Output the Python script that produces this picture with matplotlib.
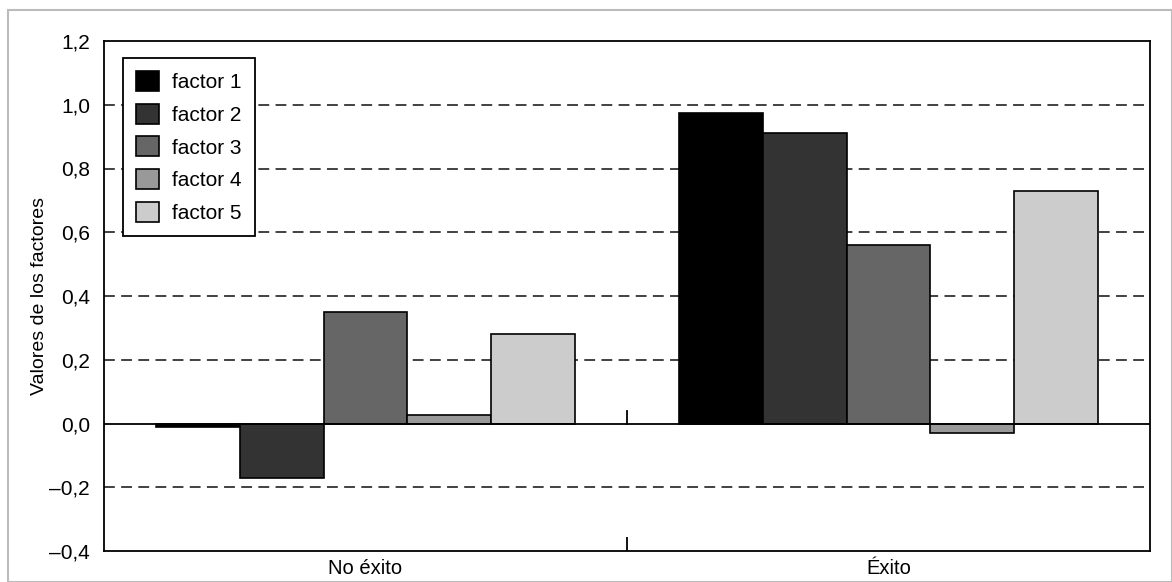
import matplotlib
matplotlib.use("Agg")
import matplotlib.pyplot as plt
from matplotlib.patches import Rectangle
import numpy as np

plt.rcParams['font.family'] = ['Liberation Sans', 'DejaVu Sans']

categories = ["No éxito", "Éxito"]
factors = ["factor 1", "factor 2", "factor 3", "factor 4", "factor 5"]
values = {
    "factor 1": [-0.01, 0.975],
    "factor 2": [-0.17, 0.912],
    "factor 3": [0.35, 0.56],
    "factor 4": [0.028, -0.03],
    "factor 5": [0.28, 0.73],
}
colors = ["#000000", "#333333", "#666666", "#999999", "#cccccc"]
yticks = [-0.4, -0.2, 0.0, 0.2, 0.4, 0.6, 0.8, 1.0, 1.2]
ytick_labels = ["\u20130,4", "\u20130,2", "0,0", "0,2", "0,4", "0,6", "0,8", "1,0", "1,2"]
grid_vals = [-0.2, 0.2, 0.4, 0.6, 0.8, 1.0]

fig = plt.figure(figsize=(11.72, 5.82), dpi=100)
fig.patches.append(Rectangle((8/1172, 0), 1 - 8/1172, 1 - 10/582, transform=fig.transFigure,
                             fill=False, edgecolor="#bbbbbb", linewidth=1.5))
ax = fig.add_axes([104/1172, 31/582, (1150-104)/1172, (551-41)/582])

x = np.arange(len(categories))
w = 0.16
for g in grid_vals:
    ax.axhline(g, color="#333333", linewidth=1.3, linestyle=(0, (6, 3.5)), zorder=1)
ax.axhline(0, color="black", linewidth=1.3, zorder=3)

for i, f in enumerate(factors):
    ax.bar(x + (i - 2) * w, values[f], width=w, color=colors[i], edgecolor="black",
           linewidth=1.2, label=f, zorder=2)

ax.set_xlim(-0.5, 1.5)
ax.set_ylim(-0.4, 1.2)
ax.set_yticks(yticks)
ax.set_yticklabels(ytick_labels, fontsize=15)
ax.tick_params(axis='y', length=0, pad=10)
ax.set_xticks(x)
ax.set_xticklabels(categories, fontsize=14.5)
ax.tick_params(axis='x', which='major', length=0, pad=6)
ax.set_xticks([0.5], minor=True)
ax.tick_params(axis='x', which='minor', direction='in', length=10, width=1.3)
ax.plot([0.5, 0.5], [0, 0.04], color="black", linewidth=1.3, zorder=3)
for s in ax.spines.values():
    s.set_linewidth(1.3)
ax.set_ylabel("Valores de los factores", fontsize=14)
ax.yaxis.set_label_coords(-56/1046, 0.5)

leg = ax.legend(loc="upper left", bbox_to_anchor=(0.018, 0.967), fontsize=15, frameon=True,
                fancybox=False, edgecolor="black", framealpha=1, borderpad=0.65,
                handlelength=1.1, handleheight=1.1, labelspacing=0.55, handletextpad=0.6,
                borderaxespad=0)
leg.get_frame().set_linewidth(1.3)

fig.savefig("out.png", dpi=100)
